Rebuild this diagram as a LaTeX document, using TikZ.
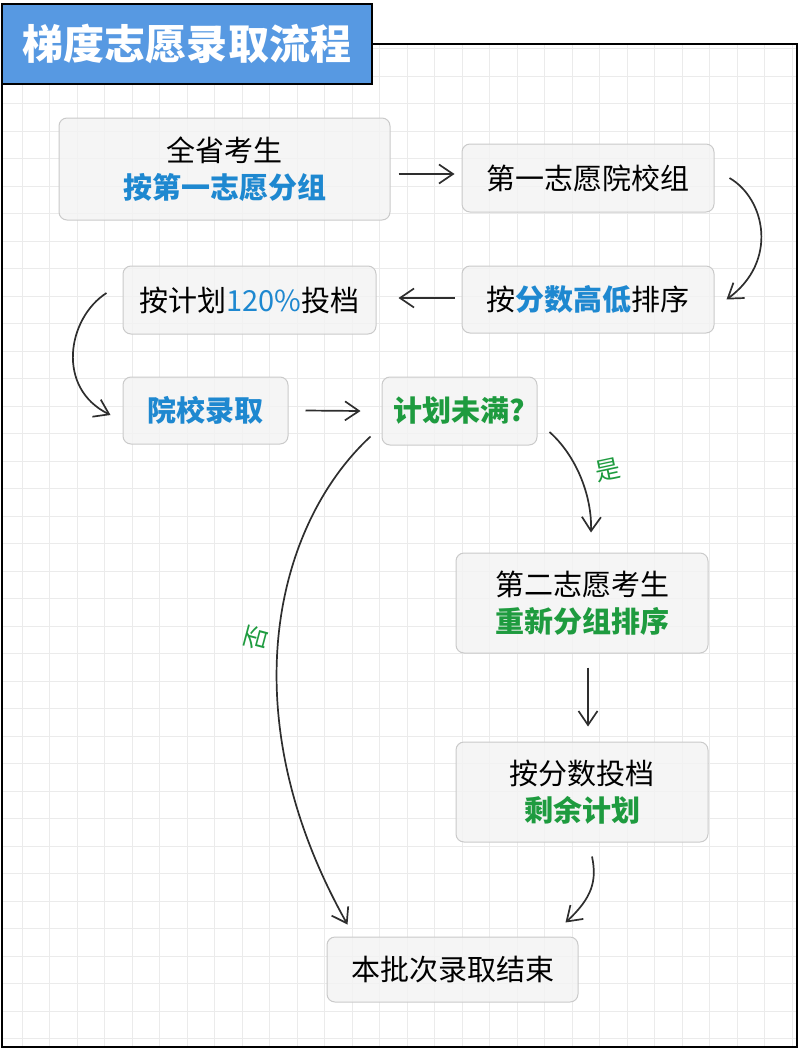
\documentclass[tikz,border=0pt]{standalone}
\usepackage{fontspec}
\setmainfont{Noto Sans CJK SC}
\usetikzlibrary{arrows.meta}
\definecolor{titleblue}{HTML}{5799E2}
\definecolor{textblue}{HTML}{1E88D0}
\definecolor{textgreen}{HTML}{1E9B3F}
\definecolor{boxfill}{HTML}{F3F3F3}
\definecolor{boxline}{HTML}{CACACA}
\definecolor{gridgray}{HTML}{EBEBEB}
\definecolor{arrowgray}{HTML}{2E2E2E}
\newcommand{\blu}[1]{\textcolor{textblue}{\bfseries #1}}
\newcommand{\grn}[1]{\textcolor{textgreen}{\bfseries #1}}

\begin{document}
\begin{tikzpicture}[x=1pt,y=-1pt,
  box/.style={draw=boxline,line width=1pt,fill=boxfill,fill opacity=0.85,text opacity=1,
    rounded corners=8pt,align=center,inner sep=0pt,font=\fontsize{29}{37}\selectfont},
  arr/.style={draw=arrowgray,line width=1.7pt,-{Straight Barb[length=14pt,width=19pt]}},
  lbl/.style={text=textgreen,font=\fontsize{25}{28}\selectfont}]
  \useasboundingbox (0,0) rectangle (801,1049);

  \foreach \i in {0,...,28}
    \draw[gridgray,line width=0.8pt] (22+27.5*\i,44) -- (22+27.5*\i,1047);
  \foreach \j in {1,...,37}
    \draw[gridgray,line width=0.8pt] (2,21+27.5*\j) -- (797,21+27.5*\j);
  \draw[line width=2pt] (2,44) rectangle (797,1047);

  \node[draw=black,line width=2.5pt,fill=titleblue,minimum width=370pt,minimum height=80pt,
    text=white,font=\fontsize{41}{41}\selectfont\bfseries] (title) at (187,44) {梯度志愿录取流程};

  \node[box,minimum width=331pt,minimum height=102pt] (all) at (224.5,169) {全省考生\\\blu{按第一志愿分组}};
  \node[box,minimum width=252pt,minimum height=68pt] (first) at (588,178) {第一志愿院校组};
  \node[box,minimum width=252pt,minimum height=67pt] (sort) at (588,299.5) {按\blu{分数高低}排序};
  \node[box,minimum width=253pt,minimum height=68pt] (plan) at (249.5,300) {按计划\textcolor{textblue}{120\%}投档};
  \node[box,minimum width=165pt,minimum height=67pt] (admit) at (205.5,410.5) {\blu{院校录取}};
  \node[box,minimum width=155pt,minimum height=68pt] (check) at (459.5,411) {\grn{计划未满?}};
  \node[box,minimum width=252pt,minimum height=100pt] (sec) at (582,603) {第二志愿考生\\\grn{重新分组排序}};
  \node[box,minimum width=252pt,minimum height=100pt] (rest) at (582,792) {按分数投档\\\grn{剩余计划}};
  \node[box,minimum width=251pt,minimum height=65pt] (done) at (452.5,969.5) {本批次录取结束};

  \draw[arr] ([xshift=8pt,yshift=-5pt]all.east) -- ([xshift=-7pt,yshift=4pt]first.west);
  \draw[arr] ([xshift=15pt]first.east) .. controls +(36,21) and +(52,-38) .. ([xshift=12pt]sort.east);
  \draw[arr] ([xshift=-7pt,yshift=1.5pt]sort.west) -- ([xshift=22pt,yshift=2pt]plan.east);
  \draw[arr] ([xshift=-16pt,yshift=7pt]plan.west) .. controls +(-39,25) and +(-55,-27) .. ([xshift=-12pt,yshift=-4.5pt]admit.west);
  \draw[arr] ([xshift=17pt]admit.east) -- ([xshift=-21pt]check.west);
  \draw[arr] ([xshift=12pt,yshift=-21pt]check.east) .. controls +(26,23) and +(1,-38) .. ([xshift=9pt,yshift=20pt]sec.north);
  \draw[arr] ([xshift=-11pt,yshift=9pt]check.south west) .. controls +(-96,89) and +(-118,-210) .. ([xshift=21pt,yshift=12pt]done.north west);
  \draw[arr] ([xshift=6pt,yshift=-14pt]sec.south) -- ([xshift=6pt,yshift=15pt]rest.north);
  \draw[arr] ([xshift=10pt,yshift=-14pt]rest.south) .. controls +(5,24) and +(27,-25) .. ([xshift=-13pt,yshift=14pt]done.north east);

  \node[lbl,rotate=12] (yes) at (608,470) {是};
  \node[lbl,rotate=75] (no) at (256,638) {否};
\end{tikzpicture}
\end{document}
